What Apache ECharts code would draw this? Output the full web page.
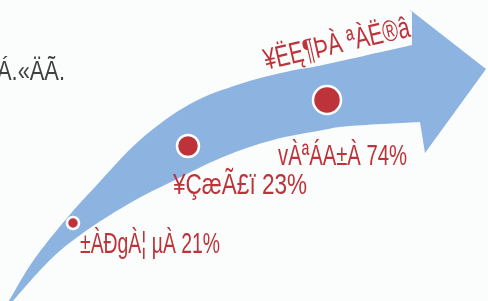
<!DOCTYPE html>
<html>
<head>
<meta charset="utf-8">
<script src="https://cdn.jsdelivr.net/npm/echarts@6/dist/echarts.min.js"></script>
<style>
  html, body { margin: 0; padding: 0; background: #fbfdfd; }
  #chart { width: 488px; height: 301px; }
</style>
</head>
<body>
<div id="chart"></div>
<script>
// arrow body: upper edge (bottom-left -> head), head, lower edge (head -> bottom-left)
const upperX = [4, 10, 33, 67, 95, 140, 190, 240, 290, 323, 412];
const upperY = [308, 299, 261, 218, 187, 140, 104, 84, 71, 65, 45];
const headX = [412, 409, 486, 425, 420];
const headY = [12, 9, 69, 153, 122];
const lowerX = [420, 350, 323, 273, 223, 173, 130, 83, 50, 13, 9];
const lowerY = [122, 126, 130, 140, 157, 181, 203, 233, 260, 301, 308];

// milestones on the arrow
const dotX = [73, 188, 327];
const dotY = [223, 146, 100];
const dotSize = [12, 22, 28];

// captions
const labelText = ["±ÀÐgÀ¦ µÀ 21%", "¥ÇæÃ£ï 23%", "vÀªÁA±À 74%", "¥ËĘ¶ÞÀ ªÀË®â", "Á.«ÄÃ."];
const labelX = [80, 173, 278, 337, -3];
const labelY = [245, 186, 157, 45, 73];
const labelWidth = [140, 134, 129, 149, 68];
const labelAngle = [0, 0, 0, 13, 0];
const labelSize = [30, 30, 30, 30, 27];

const blue = "#8db3e0";
const red = "#be3339";
const gray = "#404040";
const fontFamily = "'Liberation Sans', Arial, sans-serif";

// squeeze each caption horizontally to its width in the picture
const ctx = document.createElement("canvas").getContext("2d");
const labelScale = labelText.map((t, i) => {
  ctx.font = `${labelSize[i]}px ${fontFamily}`;
  return labelWidth[i] / ctx.measureText(t).width;
});

function smoothPath(pts, start) {
  // catmull-rom through the points, as cubic beziers
  let d = start ? `M${pts[0][0]},${pts[0][1]}` : `L${pts[0][0]},${pts[0][1]}`;
  for (let i = 0; i < pts.length - 1; i++) {
    const p0 = pts[Math.max(i - 1, 0)];
    const p1 = pts[i];
    const p2 = pts[i + 1];
    const p3 = pts[Math.min(i + 2, pts.length - 1)];
    const c1 = [p1[0] + (p2[0] - p0[0]) / 6, p1[1] + (p2[1] - p0[1]) / 6];
    const c2 = [p2[0] - (p3[0] - p1[0]) / 6, p2[1] - (p3[1] - p1[1]) / 6];
    d += ` C${c1[0]},${c1[1]} ${c2[0]},${c2[1]} ${p2[0]},${p2[1]}`;
  }
  return d;
}

const chart = echarts.init(document.getElementById("chart"));
chart.setOption({
  backgroundColor: "#fbfdfd",
  animation: false,
  grid: { left: 0, right: 0, top: 0, bottom: 0 },
  xAxis: { type: "value", min: 0, max: 488, show: false },
  yAxis: { type: "value", min: 0, max: 301, inverse: true, show: false },
  series: [
    {
      type: "custom",
      data: [0],
      z: 1,
      renderItem: (params, api) => {
        const up = upperX.map((x, i) => api.coord([x, upperY[i]]));
        const head = headX.map((x, i) => api.coord([x, headY[i]]));
        const low = lowerX.map((x, i) => api.coord([x, lowerY[i]]));
        let d = smoothPath(up, true);
        head.forEach((p) => (d += ` L${p[0]},${p[1]}`));
        d += " " + smoothPath(low, false) + " Z";
        return { type: "path", shape: { pathData: d }, style: { fill: blue } };
      },
    },
    {
      type: "scatter",
      z: 3,
      data: dotX.map((x, i) => [x, dotY[i], dotSize[i]]),
      symbolSize: (v) => v[2],
      itemStyle: { color: red, borderColor: "#ffffff", borderWidth: 2.5, opacity: 1 },
    },
    {
      type: "custom",
      z: 4,
      data: labelX.map((x, i) => [x, labelY[i]]),
      renderItem: (params, api) => {
        const i = params.dataIndex;
        const p = api.coord([api.value(0), api.value(1)]);
        return {
          type: "group",
          x: p[0],
          y: p[1],
          rotation: (labelAngle[i] * Math.PI) / 180,
          children: [
            {
              type: "text",
              scaleX: labelScale[i],
              style: {
                text: labelText[i],
                fill: i === 4 ? gray : red,
                fontSize: labelSize[i],
                fontFamily: fontFamily,
                align: labelAngle[i] ? "center" : "left",
                verticalAlign: "middle",
              },
            },
          ],
        };
      },
    },
  ],
});
</script>
</body>
</html>
